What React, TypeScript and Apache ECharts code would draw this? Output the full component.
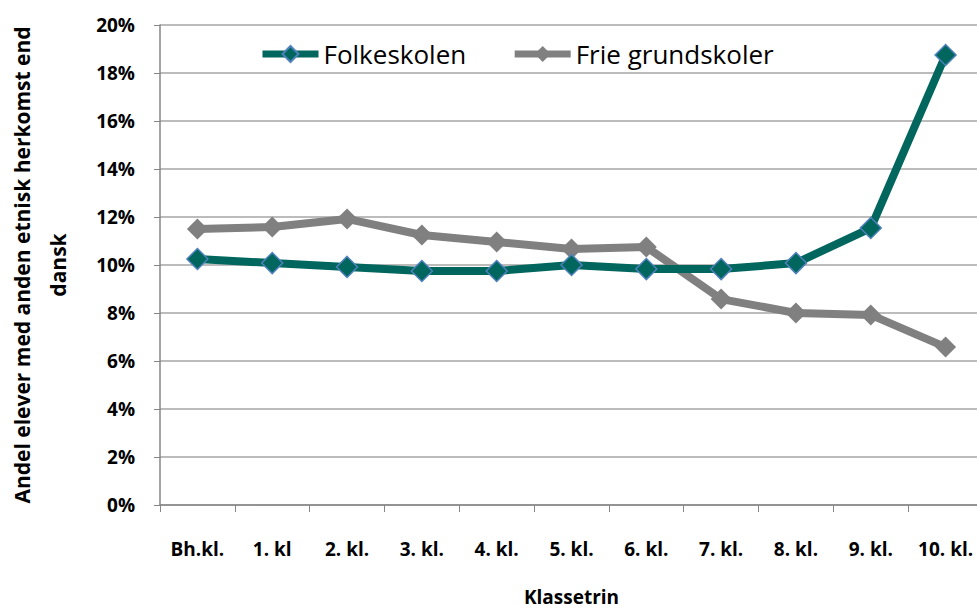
import React, { useEffect, useRef } from "react";
import * as echarts from "echarts";

const categories = ["Bh.kl.", "1. kl", "2. kl.", "3. kl.", "4. kl.", "5. kl.", "6. kl.", "7. kl.", "8. kl.", "9. kl.", "10. kl."];
const folkeskolen = [10.25, 10.08, 9.92, 9.75, 9.75, 10.0, 9.83, 9.83, 10.08, 11.54, 18.75];
const frieGrundskoler = [11.5, 11.58, 11.92, 11.25, 10.96, 10.67, 10.75, 8.58, 8.0, 7.92, 6.58];
const yTicks = { min: 0, max: 20, interval: 2 };

const FONT = "'Open Sans', sans-serif";

export default function App() {
  const ref = useRef<HTMLDivElement>(null);
  useEffect(() => {
    if (!ref.current) return;
    const chart = echarts.init(ref.current, null, { renderer: "svg" });
    chart.setOption({
      animation: false,
      backgroundColor: "#ffffff",
      textStyle: { fontFamily: FONT },
      legend: {
        top: 36,
        left: 254,
        itemWidth: 56,
        itemHeight: 20,
        itemGap: 45,
        lineStyle: { width: 7 },
        textStyle: { fontSize: 26, color: "#000", fontFamily: FONT },
        data: ["Folkeskolen", "Frie grundskoler"],
      },
      grid: { left: 160, top: 25, width: 823, height: 480, containLabel: false, outerBoundsMode: "none" },
      xAxis: {
        type: "category",
        data: categories,
        boundaryGap: true,
        axisLine: { lineStyle: { color: "#868686", width: 1.5 } },
        axisTick: { show: true, length: 7, lineStyle: { color: "#868686" } },
        axisLabel: { fontSize: 19, fontWeight: "bold", color: "#000", margin: 34, fontFamily: FONT },
        name: "Klassetrin",
        nameLocation: "middle",
        nameGap: 82,
        nameTextStyle: { fontSize: 19, fontWeight: "bold", color: "#000", fontFamily: FONT },
      },
      yAxis: {
        type: "value",
        min: yTicks.min,
        max: yTicks.max,
        interval: yTicks.interval,
        axisLine: { show: true, lineStyle: { color: "#868686", width: 1.5 } },
        axisTick: { show: true, length: 6, lineStyle: { color: "#868686" } },
        splitLine: { lineStyle: { color: "#a6a6a6", width: 1.5 } },
        axisLabel: { fontSize: 19, fontWeight: "bold", color: "#000", margin: 25, formatter: "{value}%", fontFamily: FONT },
        name: "Andel elever med anden etnisk herkomst end\ndansk",
        nameLocation: "middle",
        nameGap: 84,
        nameTextStyle: { fontSize: 21, fontWeight: "bold", color: "#000", lineHeight: 36, fontFamily: FONT },
      },
      series: [
        {
          name: "Folkeskolen",
          type: "line",
          data: folkeskolen,
          symbol: "diamond",
          symbolSize: 21,
          lineStyle: { color: "#00665e", width: 8 },
          itemStyle: { color: "#00665e", borderColor: "#4f81bd", borderWidth: 1.5 },
          z: 3,
        },
        {
          name: "Frie grundskoler",
          type: "line",
          data: frieGrundskoler,
          symbol: "diamond",
          symbolSize: 21,
          lineStyle: { color: "#808080", width: 8 },
          itemStyle: { color: "#808080", borderColor: "#808080", borderWidth: 0 },
          z: 2,
        },
      ],
    });
    return () => chart.dispose();
  }, []);
  return <div ref={ref} style={{ width: 977, height: 608, position: "absolute", left: 0, top: 0 }} />;
}
